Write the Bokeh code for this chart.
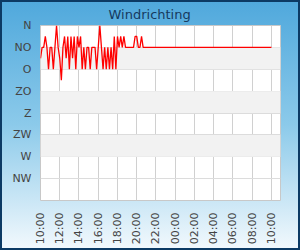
from bokeh.plotting import figure
from bokeh.models import Range1d, FixedTicker, BoxAnnotation, ColumnDataSource
from bokeh.embed import file_html
from bokeh.resources import INLINE
import math

# ---- data ----
title_text = "Windrichting"
times = ["10:00", "10:10", "10:20", "10:30", "10:40", "10:50",
         "11:00", "11:10", "11:20", "11:30", "11:40", "11:50",
         "12:00", "12:10", "12:20", "12:30", "12:40", "12:50",
         "13:00", "13:10", "13:20", "13:30", "13:40", "13:50",
         "14:00", "14:10", "14:20", "14:30", "14:40", "14:50",
         "15:00", "15:10", "15:20", "15:30", "15:40", "15:50",
         "16:00", "16:10", "16:20", "16:30", "16:40", "16:50",
         "17:00", "17:10", "17:20", "17:30", "17:40", "17:50",
         "18:00", "18:10", "18:20", "18:30", "18:40", "18:50",
         "19:00", "19:10", "19:20", "19:30", "19:40", "19:50",
         "20:00", "20:10", "20:20", "20:30", "20:40",
         "10:00"]
direction_deg = [67.5, 45, 45, 22.5, 45, 90,
                 45, 45, 90, 45, 0, 45,
                 67.5, 112.5, 45, 22.5, 67.5, 22.5,
                 90, 22.5, 67.5, 22.5, 90, 22.5,
                 45, 22.5, 90, 45, 90, 45,
                 45, 90, 45, 45, 45, 90,
                 45, 0, 45, 90, 45, 90,
                 45, 90, 45, 90, 22.5, 90,
                 22.5, 45, 22.5, 45, 22.5, 45,
                 45, 45, 45, 45, 45, 22.5,
                 22.5, 45, 45, 22.5, 45,
                 45]
x_tick_labels = ["10:00", "12:00", "14:00", "16:00", "18:00", "20:00", "22:00",
                 "00:00", "02:00", "04:00", "06:00", "08:00", "10:00"]
y_tick_labels = ["N", "NO", "O", "ZO", "Z", "ZW", "W", "NW"]
y_tick_deg = [0, 45, 90, 135, 180, 225, 270, 315]

# time strings -> continuous hours (roll over midnight)
def to_hours(labels):
    out = []
    day = 0
    prev = None
    for t in labels:
        h, m = t.split(":")
        v = int(h) + int(m) / 60.0 + day * 24
        if prev is not None and v < prev:
            day += 1
            v += 24
        out.append(v)
        prev = v
    return out

hours = to_hours(times)
x_tick_pos = to_hours(x_tick_labels)

src = ColumnDataSource(dict(x=hours, y=direction_deg))

p = figure(width=300, height=250, output_backend="svg", toolbar_location=None,
           x_range=Range1d(10, 34.94), y_range=Range1d(360, 0),
           min_border_left=40, min_border_right=20, min_border_top=25,
           min_border_bottom=50)

p.title.text = title_text
p.title.align = "left"
p.title.text_font = "DejaVu Sans"
p.title.text_font_size = "13px"
p.title.text_font_style = "normal"
p.title.text_color = "#163a5f"
p.title.offset = 68
p.title.standoff = 8

p.border_fill_color = None
p.background_fill_color = "white"
p.outline_line_color = "#c8c8c8"
p.outline_line_width = 1
p.styles = {
    "background": "linear-gradient(to bottom, #4fa8dc 0%, #8ccaea 50%, #f3f9fd 100%)",
    "box-shadow": "inset 0 0 0 2px #0c3a64",
}

# alternating bands
for i in range(1, len(y_tick_deg) - 1, 2):
    p.add_layout(BoxAnnotation(top=y_tick_deg[i], bottom=y_tick_deg[i + 1],
                               fill_color="#f2f2f2", fill_alpha=1.0,
                               line_color=None, level="underlay"))

p.line("x", "y", source=src, line_color="#ff0000", line_width=1.3)

p.xaxis.ticker = FixedTicker(ticks=x_tick_pos)
p.xaxis.major_label_overrides = {pos: lab for pos, lab in zip(x_tick_pos, x_tick_labels)}
p.xaxis.major_label_orientation = math.pi / 2
p.yaxis.ticker = FixedTicker(ticks=y_tick_deg)
p.yaxis.major_label_overrides = {pos: lab for pos, lab in zip(y_tick_deg, y_tick_labels)}

for ax in (p.xaxis[0], p.yaxis[0]):
    ax.axis_line_color = None
    ax.major_tick_line_color = None
    ax.minor_tick_line_color = None
    ax.major_tick_out = 0
    ax.major_tick_in = 0
    ax.major_label_text_font = "DejaVu Sans"
    ax.major_label_text_font_size = "11px"
    ax.major_label_text_color = "#444444"
p.xaxis.major_label_standoff = 12
p.yaxis.major_label_standoff = 9

p.xgrid.grid_line_color = "#d0d0d0"
p.ygrid.grid_line_color = "#dcdcdc"
p.xgrid.ticker = FixedTicker(ticks=x_tick_pos)
p.ygrid.ticker = FixedTicker(ticks=y_tick_deg)

open("out.html", "w").write(file_html(p, INLINE))
